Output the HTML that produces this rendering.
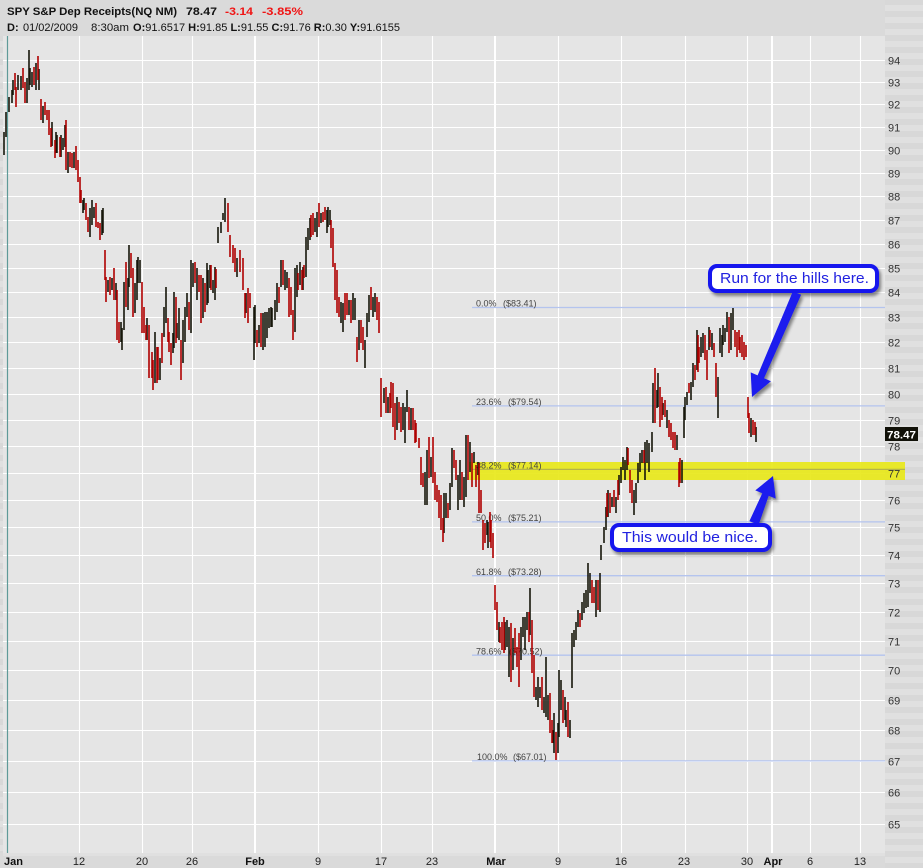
<!DOCTYPE html>
<html><head><meta charset="utf-8">
<style>
html,body{margin:0;padding:0;background:#dadada;}
svg{display:block;}
text{font-family:"Liberation Sans",Arial,sans-serif;}
</style></head>
<body>
<svg width="923" height="868" viewBox="0 0 923 868" xmlns="http://www.w3.org/2000/svg">
<defs>
<pattern id="stripe" width="12" height="12" patternUnits="userSpaceOnUse" x="0" y="5">
<rect width="12" height="12" fill="#d8d8d8"/>
<rect y="0" width="12" height="6" fill="#e0e0e0"/>
</pattern>
<filter id="sh" x="-20%" y="-30%" width="150%" height="180%">
<feGaussianBlur in="SourceAlpha" stdDeviation="1.6"/>
<feOffset dx="2" dy="3"/>
<feComponentTransfer><feFuncA type="linear" slope="0.45"/></feComponentTransfer>
<feMerge><feMergeNode/><feMergeNode in="SourceGraphic"/></feMerge>
</filter>
</defs>
<rect width="923" height="868" fill="#dadada"/>
<rect x="885" y="0" width="38" height="868" fill="url(#stripe)"/>
<rect x="0" y="36" width="3" height="817" fill="url(#stripe)"/>
<rect x="3" y="36" width="882" height="817" fill="#e5e5e5"/>
<rect x="3" y="853" width="882" height="3" fill="#e0e0e0"/>

<path d="M3 824.5H885M3 792.5H885M3 761.5H885M3 730.5H885M3 700.5H885M3 670.5H885M3 641.5H885M3 612.5H885M3 583.5H885M3 555.5H885M3 527.5H885M3 500.5H885M3 473.5H885M3 446.5H885M3 420.5H885M3 394.5H885M3 368.5H885M3 342.5H885M3 317.5H885M3 292.5H885M3 268.5H885M3 244.5H885M3 220.5H885M3 196.5H885M3 173.5H885M3 150.5H885M3 127.5H885M3 104.5H885M3 82.5H885M3 60.5H885" stroke="#fff" stroke-width="1.1" fill="none"/>
<path d="M79.5 36V853M142.5 36V853M192.5 36V853M318.5 36V853M381.5 36V853M432.5 36V853M558.5 36V853M621.5 36V853M685.5 36V853M747.5 36V853M810.5 36V853M860.5 36V853" stroke="#fff" stroke-width="1.1" fill="none"/>
<path d="M255 36V853M495 36V853M772 36V853" stroke="#fff" stroke-width="2" fill="none"/>

<rect x="469" y="462" width="436" height="18" fill="#e8e81a" opacity="0.92"/>

<path d="M472 307.5H885M472 405.9H885M472 521.9H885M472 575.7H885M472 655.2H885M472 760.9H885" stroke="#b4c4ee" stroke-width="1.3" fill="none"/>
<path d="M472 469.4H905" stroke="#a8a850" stroke-width="1.2" fill="none" opacity="0.8"/>
<g font-size="9" fill="#444">
<text x="476" y="306.7">0.0%</text><text x="503" y="306.7">($83.41)</text>
<text x="476" y="405.1">23.6%</text><text x="508" y="405.1">($79.54)</text>
<text x="476" y="468.6">38.2%</text><text x="508" y="468.6">($77.14)</text>
<text x="476" y="521.1">50.0%</text><text x="508" y="521.1">($75.21)</text>
<text x="476" y="574.9">61.8%</text><text x="508" y="574.9">($73.28)</text>
<text x="476" y="654.4">78.6%</text><text x="509" y="654.4">($70.52)</text>
<text x="477" y="760.1">100.0%</text><text x="513" y="760.1">($67.01)</text>
</g>

<line x1="7.5" y1="36" x2="7.5" y2="853" stroke="#5f9a98" stroke-width="1.2"/>

<path stroke="#16160a" stroke-width="1.6" fill="none" d="M4 132V155M6 112V137M9 97V112M12 90V103M13 80V95M18 75V90M21 76V90M27 78V103M29 50V90M30 68V85M32 72V87M36 63V90M39 69V90M43 106V123M52 122V146M56 132V153M57 135V153M61 135V157M63 138V150M65 125V147M68 152V173M74 152V168M83 200V213M84 198V210M90 208V237M92 200V225M94 207V218M102 210V235M103 208V233M108 280V292M112 278V290M116 283V300M121 322V342M122 328V350M124 282V330M128 278V310M129 245V287M135 283V313M137 260V300M138 257V283M140 260V283M147 318V340M155 332V383M160 358V380M164 307V337M166 287V323M173 333V353M174 292V348M177 323V338M179 308V340M183 320V363M185 307V342M187 293V317M191 260V333M193 263V287M197 268V300M203 278V318M207 263V305M208 270V303M210 265V288M213 280V293M215 267V300M218 227V243M221 222V233M223 213V220M225 198V222M237 258V277M246 293V313M254 307V360M255 305V343M259 325V343M263 313V350M265 312V347M267 312V338M269 308V328M271 307V327M272 308V327M275 300V320M277 283V312M281 260V287M285 270V290M287 272V288M295 268V332M297 265V297M300 262V285M303 267V290M306 237V277M308 228V250M310 218V240M315 218V232M317 212V237M321 213V223M327 210V233M328 207V227M330 210V225M341 302V323M343 303V332M349 300V315M353 293V320M355 298V320M359 320V350M365 340V368M367 313V337M369 295V322M373 297V317M375 293V312M384 388V403M388 397V413M397 397V430M403 403V430M405 407V443M407 390V412M411 408V430M425 472V505M427 450V505M431 457V477M444 493V533M446 493V518M450 483V510M452 448V487M458 475V510M460 460V500M464 477V507M466 435V497M470 442V472M474 452V463M478 462V475M487 520V535M488 522V548M499 622V642M505 622V650M507 620V647M509 627V677M513 638V670M521 627V660M523 617V637M525 617V650M527 612V630M530 588V635M536 687V700M538 677V707M540 687V698M544 697V713M546 657V717M548 695V720M553 730V743M554 713V753M558 723V753M559 670V737M561 680V710M565 697V720M566 710V727M570 720V738M572 633V688M574 630V647M576 622V640M578 610V627M582 602V620M584 593V613M586 590V608M588 563V607M590 573V593M596 580V617M600 573V612M601 545V560M604 527V543M606 507V530M608 490V517M612 497V507M616 497V513M619 475V495M621 467V483M623 457V470M625 460V480M627 447V470M634 490V515M636 483V503M638 463V483M640 453V472M642 450V463M645 442V480M647 440V463M649 443V472M652 432V452M653 383V423M657 390V408M658 373V407M663 403V415M667 410V428M677 435V450M682 460V483M684 407V438M685 397V420M687 392V405M691 382V400M693 363V387M697 330V370M701 337V357M703 333V353M709 327V350M712 333V350M718 377V418M720 328V353M722 335V357M723 325V345M725 328V342M727 312V332M731 313V350M733 308V330M751 418V437M756 427V442"/>

<path stroke="#b00000" stroke-width="1.6" fill="none" d="M15 73V90M16 87V107M23 68V88M25 82V103M34 67V85M38 56V80M41 99V120M45 102V115M47 110V120M49 110V135M51 128V147M55 140V158M60 137V157M66 120V170M70 152V167M72 153V168M76 146V170M78 160V182M80 177V203M81 190V203M86 203V220M88 217V232M96 203V227M98 222V228M100 223V240M105 250V280M106 277V302M110 277V295M114 268V300M117 290V340M119 322V343M126 262V307M131 253V278M133 268V317M142 282V333M144 307V333M146 325V340M149 325V378M152 352V378M153 360V390M157 347V383M158 347V380M162 333V363M168 318V342M169 332V352M171 343V365M176 297V343M181 340V380M189 302V330M195 262V283M199 275V292M201 275V323M205 283V312M211 265V290M216 269V288M228 203V232M230 235V257M233 245V263M235 248V272M240 250V272M243 258V290M245 293V318M248 288V323M250 293V308M257 330V347M261 313V347M279 287V303M283 260V285M289 278V317M291 287V315M293 310V340M298 273V290M302 270V290M304 265V278M311 215V237M313 213V235M319 203V227M323 212V222M325 207V220M331 220V248M333 228V267M335 263V300M337 270V313M339 297V317M345 293V320M347 293V315M351 300V323M357 337V362M361 320V343M363 327V350M371 287V310M377 297V320M379 302V333M381 378V417M386 387V413M390 393V413M391 382V408M393 383V427M395 403V440M399 402V423M401 407V432M409 407V430M413 408V430M415 420V443M416 423V442M419 438V448M421 457V485M423 473V487M429 437V478M433 437V483M435 472V500M437 485V502M439 490V518M441 495V530M443 518V542M448 503V518M454 450V468M456 460V480M462 472V500M468 435V480M472 453V487M476 465V487M479 463V513M481 490V513M483 520V550M485 523V543M490 512V542M491 520V548M493 533V558M495 585V610M497 602V630M500 627V643M502 622V650M504 617V653M511 623V682M515 628V653M517 647V667M519 633V687M529 612V642M532 620V673M534 655V697M542 677V710M550 693V733M552 720V743M556 732V760M563 690V723M568 702V737M580 613V627M592 580V603M594 587V603M598 580V610M607 493V517M610 493V513M614 490V507M618 480V500M628 448V465M630 470V493M632 480V503M644 450V463M655 368V423M660 387V427M662 397V420M665 400V417M669 420V437M671 423V440M673 432V448M675 432V450M679 462V487M680 458V483M689 383V393M695 365V380M698 335V372M699 347V363M705 335V360M707 350V380M710 330V347M714 343V357M716 363V397M729 317V353M735 330V347M737 332V357M739 330V350M740 337V353M742 335V357M744 342V360M746 345V357M748 397V418M749 413V433M753 420V435M755 422V435"/>

<g font-size="11" fill="#333">
<text x="888" y="64.5">94</text><text x="888" y="86.5">93</text><text x="888" y="108.5">92</text><text x="888" y="131.5">91</text><text x="888" y="154.5">90</text><text x="888" y="177.5">89</text><text x="888" y="200.5">88</text><text x="888" y="224.5">87</text><text x="888" y="248.5">86</text><text x="888" y="272.5">85</text><text x="888" y="296.5">84</text><text x="888" y="321.5">83</text><text x="888" y="346.5">82</text><text x="888" y="372.5">81</text><text x="888" y="398.5">80</text><text x="888" y="424.5">79</text><text x="888" y="450.5">78</text><text x="888" y="477.5">77</text><text x="888" y="504.5">76</text><text x="888" y="531.5">75</text><text x="888" y="559.5">74</text><text x="888" y="587.5">73</text><text x="888" y="616.5">72</text><text x="888" y="645.5">71</text><text x="888" y="674.5">70</text><text x="888" y="704.5">69</text><text x="888" y="734.5">68</text><text x="888" y="765.5">67</text><text x="888" y="796.5">66</text><text x="888" y="828.5">65</text>
</g>

<g font-size="11" fill="#222" text-anchor="middle">
<text x="4" y="865" text-anchor="start" font-weight="bold" fill="#111">Jan</text>
<text x="79" y="865">12</text><text x="142" y="865">20</text><text x="192" y="865">26</text>
<text x="255" y="865" font-weight="bold" fill="#111">Feb</text>
<text x="318" y="865">9</text><text x="381" y="865">17</text><text x="432" y="865">23</text>
<text x="496" y="865" font-weight="bold" fill="#111">Mar</text>
<text x="558" y="865">9</text><text x="621" y="865">16</text><text x="684" y="865">23</text><text x="747" y="865">30</text>
<text x="773" y="865" font-weight="bold" fill="#111">Apr</text>
<text x="810" y="865">6</text><text x="860" y="865">13</text>
</g>

<rect x="885" y="427" width="33" height="14" fill="#111108"/>
<text x="887" y="438.5" font-size="11" font-weight="bold" fill="#fff" textLength="29" lengthAdjust="spacingAndGlyphs">78.47</text>

<g font-size="11" fill="#111">
<text x="7" y="15" font-weight="bold" textLength="170" lengthAdjust="spacingAndGlyphs">SPY S&amp;P Dep Receipts(NQ NM)</text>
<text x="186" y="15" font-weight="bold" textLength="31" lengthAdjust="spacingAndGlyphs">78.47</text>
<text x="225" y="15" font-weight="bold" fill="#f01414" textLength="28" lengthAdjust="spacingAndGlyphs">-3.14</text>
<text x="262" y="15" font-weight="bold" fill="#f01414" textLength="41" lengthAdjust="spacingAndGlyphs">-3.85%</text>
<text x="7" y="31" font-weight="bold">D:</text>
<text x="23" y="31" textLength="55" lengthAdjust="spacingAndGlyphs">01/02/2009</text>
<text x="91" y="31" textLength="38" lengthAdjust="spacingAndGlyphs">8:30am</text>
<text x="133" y="31" textLength="267" lengthAdjust="spacingAndGlyphs"><tspan font-weight="bold">O:</tspan>91.6517 <tspan font-weight="bold">H:</tspan>91.85 <tspan font-weight="bold">L:</tspan>91.55 <tspan font-weight="bold">C:</tspan>91.76 <tspan font-weight="bold">R:</tspan>0.30 <tspan font-weight="bold">Y:</tspan>91.6155</text>
</g>

<g filter="url(#sh)">
<polygon points="792.9,291.2 801.1,294.8 764,378.2 770.9,381.2 752,397 750.7,372.4 757.6,375.4" fill="#1a1aee"/>
<polygon points="749.4,521.1 758.6,524.9 768.7,495.8 775.7,498.6 773,476 755.3,490.4 762.3,493.2" fill="#1a1aee"/>
<rect x="710" y="266" width="167" height="25" rx="7" fill="#fff" stroke="#1414ee" stroke-width="4"/>
<rect x="612" y="525" width="158" height="25" rx="7" fill="#fff" stroke="#1414ee" stroke-width="4"/>
</g>
<text x="720" y="283" font-size="15" fill="#2222e0" textLength="149" lengthAdjust="spacingAndGlyphs">Run for the hills here.</text>
<text x="622" y="542" font-size="15" fill="#2222e0" textLength="136" lengthAdjust="spacingAndGlyphs">This would be nice.</text>
</svg>
</body></html>
